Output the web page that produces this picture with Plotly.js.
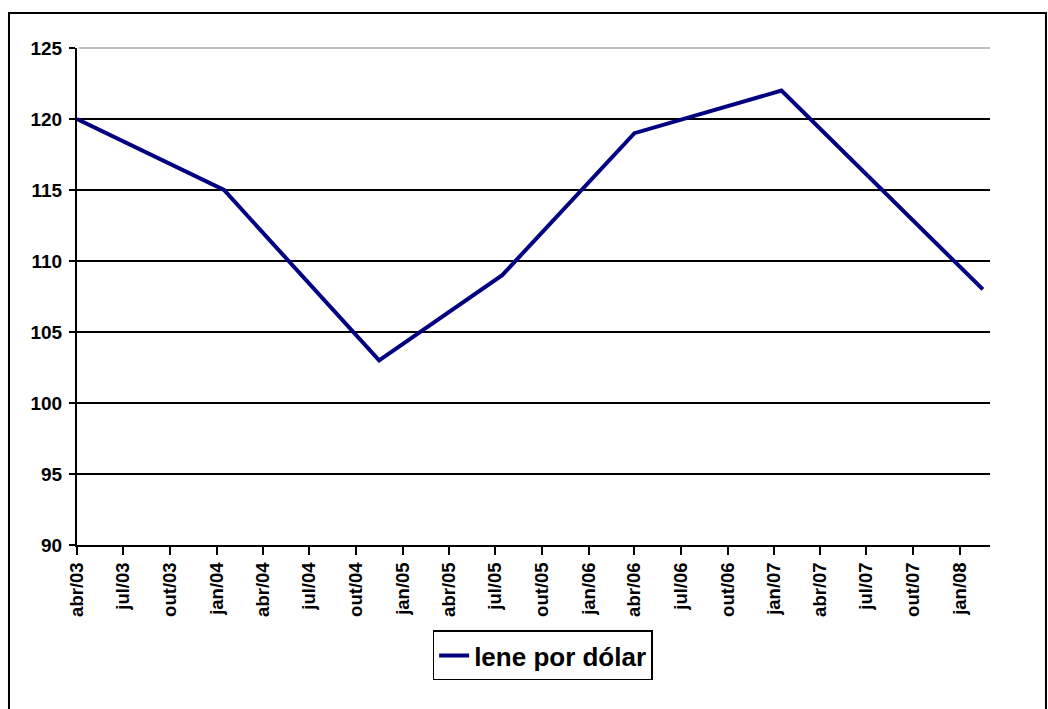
<!DOCTYPE html>
<html>
<head>
<meta charset="utf-8">
<script src="https://cdn.plot.ly/plotly-3.0.1.min.js"></script>
<style>
  html, body { margin: 0; padding: 0; background: #ffffff; }
  #chart { width: 1048px; height: 709px; }
</style>
</head>
<body>
<div id="chart"></div>
<script>
// Data
const seriesName = 'lene por dólar';
const dates = ['2003-04-01', '2004-01-15', '2004-11-15', '2005-07-15', '2006-04-01', '2007-01-15', '2008-02-15'];
const values = [120, 115, 103, 109, 119, 122, 108];

// Quarterly tick labels
const tickDates = ['2003-04-01', '2003-07-01', '2003-10-01', '2004-01-01', '2004-04-01', '2004-07-01', '2004-10-01',
  '2005-01-01', '2005-04-01', '2005-07-01', '2005-10-01', '2006-01-01', '2006-04-01', '2006-07-01', '2006-10-01',
  '2007-01-01', '2007-04-01', '2007-07-01', '2007-10-01', '2008-01-01'];
const tickLabels = ['abr/03', 'jul/03', 'out/03', 'jan/04', 'abr/04', 'jul/04', 'out/04',
  'jan/05', 'abr/05', 'jul/05', 'out/05', 'jan/06', 'abr/06', 'jul/06', 'out/06',
  'jan/07', 'abr/07', 'jul/07', 'out/07', 'jan/08'];
const yTicks = [90, 95, 100, 105, 110, 115, 120, 125];

const fontFamily = '"Liberation Sans", Arial, sans-serif';

const trace = {
  x: dates,
  y: values,
  type: 'scatter',
  mode: 'lines',
  name: seriesName,
  line: { color: '#000080', width: 4 },
  showlegend: true
};

const layout = {
  width: 1048,
  height: 709,
  margin: { l: 77, r: 58, t: 48, b: 164 },
  paper_bgcolor: '#ffffff',
  plot_bgcolor: '#ffffff',
  font: { family: fontFamily, color: '#000000', size: 18, weight: 'bold' },
  showlegend: true,
  legend: {
    x: 0.51, xanchor: 'center',
    y: -0.172, yanchor: 'top',
    orientation: 'h',
    bgcolor: '#ffffff',
    bordercolor: '#000000',
    borderwidth: 1.5,
    font: { family: fontFamily, size: 26, color: '#000000', weight: 'bold' }
  },
  xaxis: {
    type: 'date',
    range: ['2003-04-01', '2008-02-29'],
    tickmode: 'array',
    tickvals: tickDates,
    ticktext: tickLabels,
    tickangle: -90,
    ticks: 'outside',
    ticklen: 8,
    tickwidth: 2,
    tickcolor: '#000000',
    showline: true,
    linecolor: '#000000',
    linewidth: 2,
    showgrid: false,
    zeroline: false,
    tickfont: { family: fontFamily, size: 18.5, color: '#000000', weight: 'bold' }
  },
  yaxis: {
    range: [90, 125],
    tickmode: 'array',
    tickvals: yTicks,
    ticks: 'outside',
    ticklen: 6,
    tickwidth: 2,
    tickcolor: '#000000',
    ticklabelstandoff: 3,
    showline: true,
    linecolor: '#000000',
    linewidth: 2,
    showgrid: true,
    gridcolor: '#000000',
    gridwidth: 2,
    zeroline: false,
    tickfont: { family: fontFamily, size: 19, color: '#000000', weight: 'bold' }
  },
  shapes: [
    // light top gridline at 125
    { type: 'line', xref: 'paper', yref: 'paper', x0: 0.002, x1: 1, y0: 1, y1: 1,
      line: { color: '#c0c0c0', width: 2 }, layer: 'above' },
    // outer chart frame
    { type: 'rect', xref: 'paper', yref: 'paper', x0: -0.0745, x1: 1.0613, y0: -0.34, y1: 1.0704,
      line: { color: '#000000', width: 2 }, fillcolor: 'rgba(0,0,0,0)', layer: 'below' }
  ]
};

Plotly.newPlot('chart', [trace], layout, { displayModeBar: false, staticPlot: true });
</script>
</body>
</html>
